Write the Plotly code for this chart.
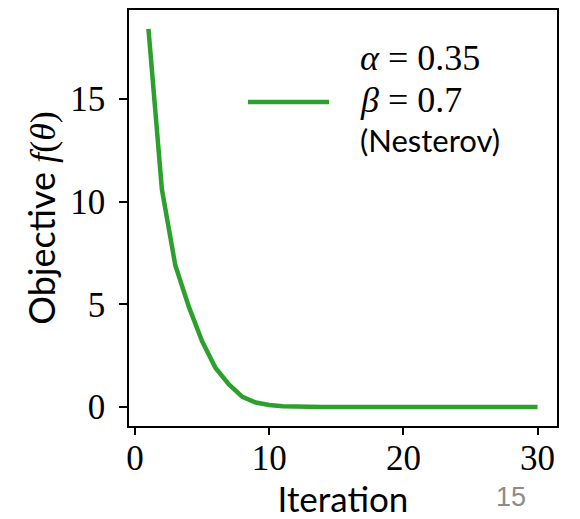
import plotly.graph_objects as go

iterations = list(range(1, 31))
objective = [18.4, 10.6, 6.9, 4.9, 3.2, 1.9, 1.1, 0.5, 0.22, 0.1,
             0.04, 0.01, 0.0, 0.0, 0.0, 0.0, 0.0, 0.0, 0.0, 0.0,
             0.0, 0.0, 0.0, 0.0, 0.0, 0.0, 0.0, 0.0, 0.0, 0.0]
x_ticks = [0, 10, 20, 30]
y_ticks = [0, 5, 10, 15]
legend_lines = ["<i>α</i> = 0.35", "<i>β</i> = 0.7", "(Nesterov)"]

GREEN = "#2ca02c"
SERIF = "Liberation Serif"
SANS = "Lato"

W, H = 580, 519
ml, mr, mt, mb = 129, 23, 8.5, 92
pw, ph = W - ml - mr, H - mt - mb


def px_to_paper(px, py):
    return (px - ml) / pw, (H - mb - py) / ph


fig = go.Figure()
fig.add_trace(go.Scatter(
    x=iterations, y=objective, mode="lines", name="Nesterov",
    line=dict(color=GREEN, width=4.5), showlegend=False))

fig.update_layout(
    width=W, height=H,
    margin=dict(l=ml, r=mr, t=mt, b=mb, pad=0),
    paper_bgcolor="white", plot_bgcolor="white",
    xaxis=dict(range=[-0.45, 31.45], tickvals=x_ticks,
               ticktext=[str(v) for v in x_ticks],
               showgrid=False, zeroline=False,
               showline=True, linecolor="black", linewidth=1.6, mirror=True,
               ticks="outside", ticklen=7, tickwidth=1.5, tickcolor="black",
               ticklabelstandoff=-7,
               tickfont=dict(family=SERIF, size=35, color="black"),
               title=dict(text="Iteration", standoff=8,
                          font=dict(family=SANS, size=35, color="black"))),
    yaxis=dict(range=[-0.92, 19.32], tickvals=y_ticks,
               ticktext=[str(v) for v in y_ticks],
               showgrid=False, zeroline=False,
               showline=True, linecolor="black", linewidth=1.6, mirror=True,
               ticks="outside", ticklen=8, tickwidth=1.5, tickcolor="black",
               ticklabelstandoff=7,
               tickfont=dict(family=SERIF, size=35, color="black"),
               title=dict(text="Objective <span style='font-family:Liberation Serif'><i>f</i>(<i>θ</i>)</span>",
                          standoff=4,
                          font=dict(family=SANS, size=36, color="black"))),
)

# legend sample line
x0, y0 = px_to_paper(248, 101)
x1, _ = px_to_paper(329, 101)
fig.add_shape(type="line", xref="paper", yref="paper", x0=x0, x1=x1, y0=y0, y1=y0,
              line=dict(color=GREEN, width=4.5))

for txt, py, fam, sz in zip(legend_lines, [57, 99, 139], [SERIF, SERIF, SANS], [36, 36, 31]):
    ax, ay = px_to_paper(358, py)
    fig.add_annotation(xref="paper", yref="paper", x=ax, y=ay, text=txt,
                       xanchor="left", yanchor="middle", showarrow=False,
                       font=dict(family=fam, size=sz, color="black"))

# slide page number
ax, ay = px_to_paper(511, 498)
fig.add_annotation(xref="paper", yref="paper", x=ax, y=ay, text="15",
                   xanchor="center", yanchor="middle", showarrow=False,
                   font=dict(family="Liberation Sans", size=27, color="#8c8c8c"))

fig.write_html("out.html")
